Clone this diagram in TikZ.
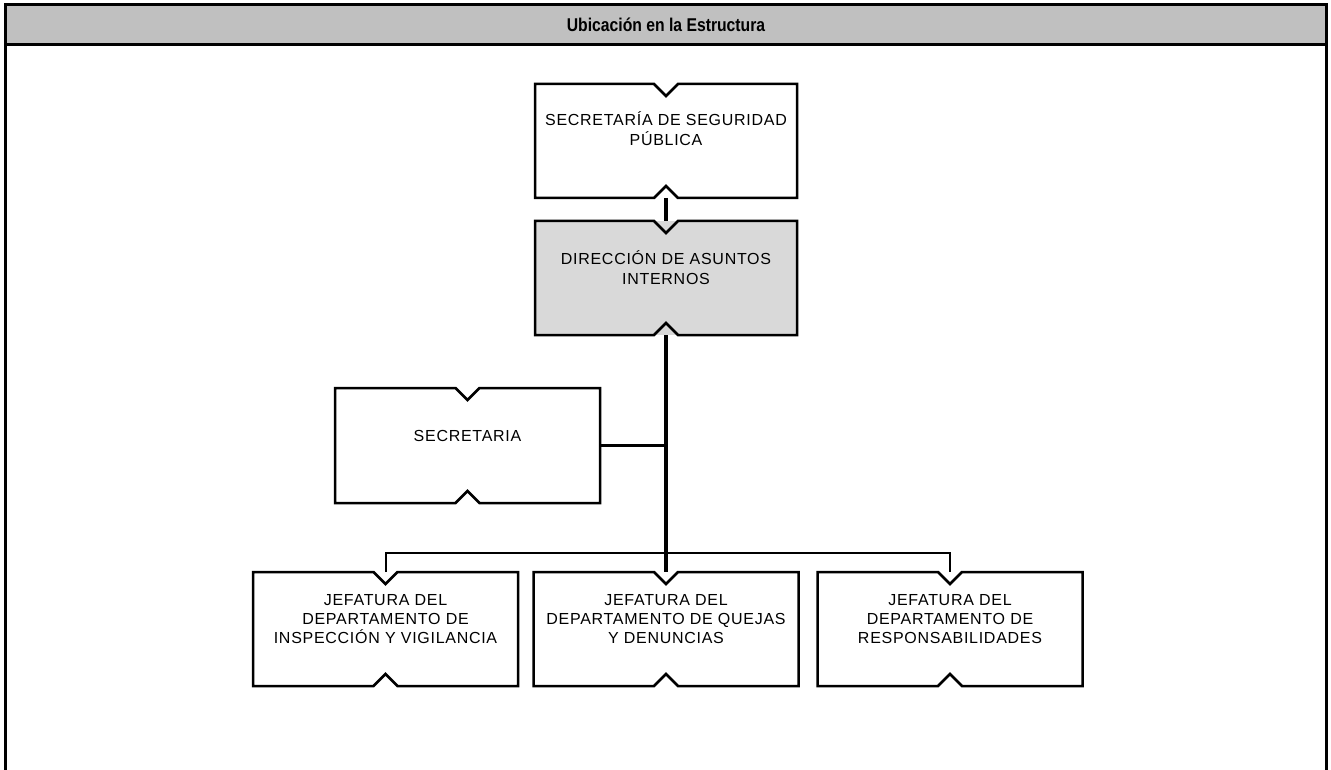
\documentclass[tikz,border=0pt]{standalone}
\usepackage{fontspec}
\setmainfont{Liberation Sans}
\newfontfamily\titlefont[FakeStretch=0.85]{Liberation Sans}
\definecolor{headgray}{HTML}{C0C0C0}
\definecolor{boxgray}{HTML}{D9D9D9}
\tikzset{
  boxnode/.style={draw=none, inner sep=0pt, outer sep=0pt, minimum width=265pt, minimum height=114pt},
  boxline/.style={draw=black, line width=2.5pt, line join=miter},
  boxtext/.style={inner sep=0pt, outer sep=0pt, align=center, anchor=north},
  topfont/.style={font=\addfontfeature{LetterSpace=4.5}\fontsize{16}{20}\selectfont},
  botfont/.style={font=\addfontfeature{LetterSpace=4.5}\fontsize{16}{19}\selectfont},
  mainlink/.style={line width=4pt},
  sidelink/.style={line width=2.5pt},
  buslink/.style={line width=2pt},
  frameline/.style={line width=3pt}
}
\newcommand\notchbox[1]{%
  \draw[boxline] (#1.north west) -- ([xshift=-12pt]#1.north) -- ([yshift=-12pt]#1.north) -- ([xshift=12pt]#1.north) -- (#1.north east) -- (#1.south east) -- ([xshift=12pt]#1.south) -- ([yshift=12pt]#1.south) -- ([xshift=-12pt]#1.south) -- (#1.south west) -- cycle;}
\newcommand\fs{\rule{0pt}{15pt}}
\begin{document}
\begin{tikzpicture}[x=1pt,y=-1pt]
\useasboundingbox (0,0) rectangle (1331,770);
% header
\fill[headgray] (5,5) rectangle (1326,45);
\draw[frameline] (5,770) -- (5,5) -- (1326,5) -- (1326,770);
\draw[frameline] (5,45) -- (1326,45);
\node[font=\titlefont\bfseries\fontsize{18.5}{22}\selectfont] (title) at (666,25) {Ubicación en la Estructura};
% boxes
\node[boxnode, minimum width=262pt] (ssp) at (666,141) {};
\node[boxnode, minimum width=262pt, fill=boxgray] (dai) at (666,278) {};
\node[boxnode, minimum height=115pt] (sec) at (467.5,445.5) {};
\node[boxnode] (left) at (385.5,629) {};
\node[boxnode] (mid) at (666,629) {};
\node[boxnode] (right) at (950,629) {};
\foreach \b in {ssp,dai,sec,left,mid,right} {\notchbox{\b}}
% texts
\node[boxtext, topfont] (ssp-t) at ([yshift=-27pt]ssp.north) {\fs SECRETARÍA DE SEGURIDAD\\PÚBLICA};
\node[boxtext, topfont] (dai-t) at ([yshift=-28pt]dai.north) {\fs DIRECCIÓN DE ASUNTOS\\INTERNOS};
\node[boxtext, topfont] (sec-t) at ([yshift=-38pt]sec.north) {\fs SECRETARIA};
\node[boxtext, botfont] (left-t) at ([yshift=-18pt]left.north) {\fs JEFATURA DEL\\DEPARTAMENTO DE\\INSPECCIÓN Y VIGILANCIA};
\node[boxtext, botfont] (mid-t) at ([yshift=-18pt]mid.north) {\fs JEFATURA DEL\\DEPARTAMENTO DE QUEJAS\\Y DENUNCIAS};
\node[boxtext, botfont] (right-t) at ([yshift=-18pt]right.north) {\fs JEFATURA DEL\\DEPARTAMENTO DE\\RESPONSABILIDADES};
% connectors
\coordinate (bus) at (666,553);
\draw[mainlink] (ssp.south) -- (dai.north);
\draw[mainlink] (dai.south) -- (mid.north);
\draw[sidelink] (sec.east) -- (sec.east -| dai.south);
\draw[buslink] (left.north) -- (left.north |- bus) -- (right.north |- bus) -- (right.north);
\end{tikzpicture}
\end{document}
